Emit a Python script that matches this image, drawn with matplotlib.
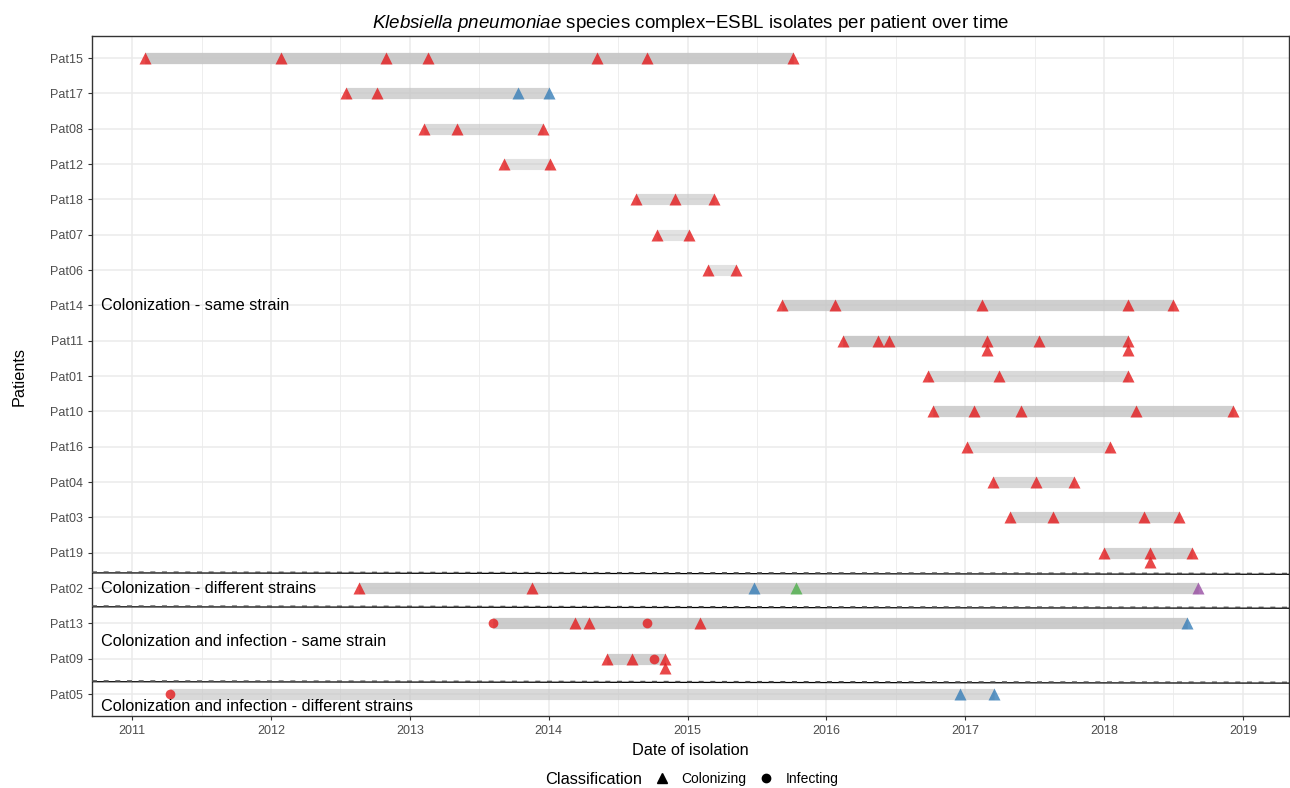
import matplotlib
matplotlib.use('Agg')
import matplotlib.pyplot as plt
from matplotlib.lines import Line2D

plt.rcParams['font.family'] = ['Liberation Sans', 'DejaVu Sans']
plt.rcParams['mathtext.fontset'] = 'custom'
plt.rcParams['mathtext.it'] = 'Liberation Sans:italic'
plt.rcParams['mathtext.rm'] = 'Liberation Sans'

# patients from top to bottom
patients = ['Pat15', 'Pat17', 'Pat08', 'Pat12', 'Pat18', 'Pat07', 'Pat06', 'Pat14', 'Pat11',
            'Pat01', 'Pat10', 'Pat16', 'Pat04', 'Pat03', 'Pat19', 'Pat02', 'Pat13', 'Pat09', 'Pat05']

# isolates (decimal years); C = colonizing, I = infecting; strain letter
iso_patient = (['Pat15'] * 7 + ['Pat17'] * 4 + ['Pat08'] * 3 + ['Pat12'] * 2 + ['Pat18'] * 3
               + ['Pat07'] * 2 + ['Pat06'] * 2 + ['Pat14'] * 5 + ['Pat11'] * 8 + ['Pat01'] * 3
               + ['Pat10'] * 5 + ['Pat16'] * 2 + ['Pat04'] * 3 + ['Pat03'] * 4 + ['Pat19'] * 4
               + ['Pat02'] * 5 + ['Pat13'] * 6 + ['Pat09'] * 5 + ['Pat05'] * 3)
iso_date = [2011.09, 2012.07, 2012.83, 2013.13, 2014.35, 2014.71, 2015.76,
            2012.54, 2012.76, 2013.78, 2014.00,
            2013.10, 2013.34, 2013.96,
            2013.68, 2014.01,
            2014.63, 2014.91, 2015.19,
            2014.78, 2015.01,
            2015.15, 2015.35,
            2015.68, 2016.06, 2017.12, 2018.17, 2018.50,
            2016.12, 2016.37, 2016.45, 2017.16, 2017.16, 2017.53, 2018.17, 2018.17,
            2016.73, 2017.24, 2018.17,
            2016.77, 2017.06, 2017.40, 2018.23, 2018.93,
            2017.01, 2018.04,
            2017.20, 2017.51, 2017.78,
            2017.32, 2017.63, 2018.29, 2018.54,
            2018.00, 2018.33, 2018.33, 2018.63,
            2012.63, 2013.88, 2015.48, 2015.78, 2018.68,
            2013.60, 2014.19, 2014.29, 2014.71, 2015.09, 2018.60,
            2014.42, 2014.60, 2014.76, 2014.84, 2014.84,
            2011.27, 2016.96, 2017.21]
iso_class = (['C'] * 57
             + ['C'] * 5
             + ['I', 'C', 'C', 'I', 'C', 'C']
             + ['C', 'C', 'I', 'C', 'C']
             + ['I', 'C', 'C'])
iso_strain = (['A'] * 7 + ['A', 'A', 'B', 'B'] + ['A'] * 46
              + ['A', 'A', 'B', 'C', 'D']
              + ['A'] * 5 + ['B']
              + ['A'] * 5
              + ['A', 'B', 'B'])

groups = ['Colonization - same strain', 'Colonization - different strains',
          'Colonization and infection - same strain', 'Colonization and infection - different strains']
group_y = [11, 3, 1.5, -0.34]
sep_y = [3.42, 2.46, 0.34]

strain_colors = {'A': '#E41A1C', 'B': '#377EB8', 'C': '#4DAF4A', 'D': '#984EA3'}
markers = {'C': '^', 'I': 'o'}

ypos = {p: len(patients) - 1 - i for i, p in enumerate(patients)}

fig = plt.figure(figsize=(12.9, 7.88), dpi=100)
ax = fig.add_axes([0.0713, 0.0914, 0.9277, 0.8626])

x0, x1 = 2010.71, 2019.33

# segments: one per isolate, overlapping with alpha
for p in patients:
    d = [iso_date[i] for i in range(len(iso_date)) if iso_patient[i] == p]
    for _ in d:
        ax.plot([min(d), max(d)], [ypos[p], ypos[p]], color='0.78', alpha=0.3,
                lw=8, solid_capstyle='butt', zorder=2)

# points, duplicates stacked slightly below
seen = {}
for i in range(len(iso_date)):
    key = (iso_patient[i], iso_date[i])
    k = seen.get(key, 0)
    seen[key] = k + 1
    y = ypos[iso_patient[i]] - 0.25 * k
    ms = 8.5 if iso_class[i] == 'C' else 7
    ax.plot(iso_date[i], y, marker=markers[iso_class[i]], ms=ms, color=strain_colors[iso_strain[i]],
            alpha=0.8, mec='none', ls='none', zorder=4)

for y in sep_y:
    ax.plot([x0, x1], [y + 0.01, y - 0.03], color='black', lw=0.9, zorder=3)
    ax.plot([x0, x1], [y + 0.03, y - 0.01], color='0.3', lw=1.2, ls=(0, (3, 4)), zorder=3)

for g, y in zip(groups, group_y):
    ax.text(2010.777, y, g, fontsize=11.7, va='center', ha='left', zorder=5)

ax.set_xticks(range(2011, 2020))
ax.set_xticks([y + 0.5 for y in range(2011, 2019)], minor=True)
ax.set_yticks([ypos[p] for p in patients])
ax.set_yticklabels(patients)
ax.set_xlim(x0, x1)
ax.set_ylim(-0.62, len(patients) - 1 + 0.62)
ax.tick_params(axis='both', labelsize=9, colors='#333333', labelcolor='#4d4d4d', length=3)
ax.tick_params(axis='x', which='minor', length=0)
ax.grid(which='major', color='#ebebeb', lw=1.1, zorder=0)
ax.grid(which='minor', axis='x', color='#ebebeb', lw=0.6, zorder=0)
ax.set_axisbelow(True)
for s in ax.spines.values():
    s.set_color('#333333')
    s.set_linewidth(1.0)

ax.set_xlabel('Date of isolation', fontsize=11.7, labelpad=4)
ax.set_ylabel('Patients', fontsize=11.7, labelpad=17)
ax.set_title(r'$\it{Klebsiella\ pneumoniae}$ species complex−ESBL isolates per patient over time',
             fontsize=13.5, pad=6)

fig.text(0.4225, 0.0114, 'Classification', fontsize=11.8, va='center')
handles = [Line2D([], [], marker='^', color='black', ls='none', ms=7),
           Line2D([], [], marker='o', color='black', ls='none', ms=6)]
fig.legend(handles, ['Colonizing', 'Infecting'], loc='center left', bbox_to_anchor=(0.5047, 0.0114),
           ncol=2, frameon=False, fontsize=10, handletextpad=0.6, columnspacing=0.6,
           borderaxespad=0, borderpad=0, handlelength=1.6)

fig.savefig('out.png', dpi=100)
